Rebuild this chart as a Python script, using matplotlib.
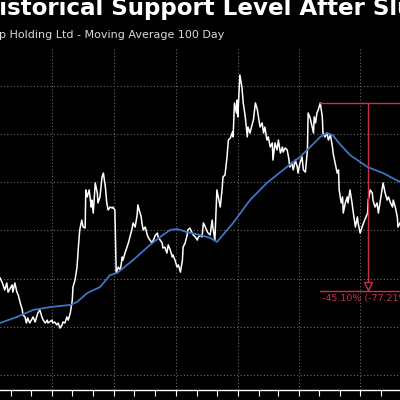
import numpy as np
import pandas as pd
import matplotlib
matplotlib.use("Agg")
import matplotlib.pyplot as plt
import matplotlib.dates as mdates
from matplotlib.transforms import offset_copy

# ---- data ---------------------------------------------------------------
START = pd.Timestamp("2020-01-15")

price_day = [
    0, 3, 7, 10, 12, 18, 19, 22, 25, 27, 30, 33, 34, 37, 39, 41, 44, 49, 52, 55,
    56, 59, 62, 64, 67, 70, 71, 77, 78, 81, 84, 86, 89, 92, 93, 96, 99, 101, 104, 107,
    108, 111, 114, 116, 118, 121, 123, 126, 127, 129, 132, 135, 136, 138, 141, 144, 145, 148, 151, 153,
    156, 158, 160, 163, 166, 167, 170, 172, 175, 178, 181, 182, 185, 188, 190, 193, 195, 197, 200, 203,
    204, 206, 209, 210, 212, 215, 218, 219, 222, 225, 227, 230, 233, 234, 237, 240, 241, 244, 247, 249,
    252, 255, 256, 259, 262, 264, 267, 270, 271, 274, 277, 278, 281, 284, 286, 289, 292, 293, 296, 299,
    301, 304, 307, 308, 311, 314, 315, 318, 320, 321, 324, 326, 329, 330, 333, 336, 338, 341, 344, 345,
    347, 350, 351, 352, 354, 355, 358, 360, 363, 366, 367, 370, 373, 375, 378, 381, 382, 385, 388, 390,
    392, 395, 397, 400, 403, 404, 407, 410, 412, 415, 418, 419, 422, 425, 427, 429, 432, 434, 437, 440,
    441, 444, 447, 449, 452, 455, 456, 459, 462, 464, 465, 467, 469, 471, 474, 477, 478, 481, 484, 486,
    489, 492, 493, 496, 499, 501, 502, 505, 507, 508, 511, 514, 515, 518, 521, 523, 526, 529, 530, 533,
    536, 538, 541, 544, 545, 548, 551, 552, 555, 558, 560, 563, 566, 567, 570, 573, 575, 578, 581, 582,
    585, 588, 589, 592,
]
price = [
    100.3, 98.6, 95.3, 98.2, 94.4, 97.4, 94.4, 98.2, 94.4, 93.2, 89.9, 87.0, 84.9, 84.1, 81.6, 83.7, 81.6, 84.1, 82.0, 84.9,
    85.7, 87.0, 84.1, 82.8, 81.6, 82.8, 81.6, 82.8, 81.6, 82.0, 80.8, 81.6, 79.5, 80.8, 82.0, 81.6, 84.1, 82.8, 85.7, 91.1,
    96.5, 99.4, 104.8, 113.1, 120.2, 124.3, 121.4, 121.0, 136.8, 133.9, 136.8, 129.7, 132.6, 127.2, 139.7, 135.5, 131.4, 133.9, 142.2, 143.8,
    138.0, 131.4, 128.5, 129.7, 129.3, 129.7, 128.5, 102.3, 104.8, 103.6, 109.0, 107.7, 110.6, 113.1, 114.8, 118.1, 120.2, 123.1, 121.4, 126.4,
    130.6, 128.5, 125.6, 123.1, 120.2, 121.4, 118.1, 117.3, 116.0, 114.8, 116.0, 118.1, 118.9, 117.3, 116.0, 114.8, 112.7, 113.1, 110.6, 114.0,
    111.9, 109.0, 109.8, 107.7, 104.8, 105.7, 102.7, 107.7, 113.1, 114.8, 118.1, 120.2, 121.0, 119.3, 118.1, 117.3, 116.0, 116.9, 118.1, 117.3,
    123.1, 121.4, 119.3, 118.9, 118.1, 124.3, 121.4, 116.0, 129.7, 136.8, 132.6, 129.7, 138.0, 142.2, 143.0, 150.5, 157.5, 158.4, 160.8, 158.8,
    172.9, 168.7, 174.1, 167.1, 178.3, 184.5, 179.5, 172.9, 167.1, 158.8, 162.9, 160.4, 163.8, 165.8, 172.9, 170.0, 167.9, 162.9, 164.6, 160.4,
    162.9, 157.5, 158.8, 154.6, 156.3, 149.2, 156.3, 153.4, 157.5, 152.1, 154.6, 152.5, 154.2, 153.4, 150.5, 146.3, 148.0, 145.1, 149.2, 146.3,
    143.8, 148.0, 150.5, 145.1, 144.2, 153.4, 168.7, 166.7, 162.9, 160.4, 167.1, 164.6, 168.7, 170.0, 172.9, 167.1, 160.4, 158.8, 160.4, 157.5,
    159.6, 154.6, 152.1, 148.0, 143.8, 145.1, 136.8, 131.4, 133.9, 127.2, 131.4, 133.9, 131.4, 136.8, 131.4, 127.2, 121.4, 125.6, 123.1, 118.9,
    121.4, 123.1, 125.2, 127.2, 132.6, 136.8, 135.5, 132.6, 129.7, 131.4, 127.2, 132.6, 138.0, 139.7, 135.5, 132.6, 133.9, 131.4, 129.7, 132.6,
    129.7, 125.6, 121.4, 123.1,
]

ma_day = [0, 25, 49, 74, 104, 114, 129, 148, 163, 173, 197, 222, 241, 252, 262, 277,
          296, 311, 321, 345, 370, 395, 419, 444, 459, 474, 484, 492, 504, 518, 533,
          544, 567, 592]
ma100 = [81.6, 84.1, 87.0, 88.2, 89.1, 90.3, 94.0, 96.5, 101.5, 102.3, 107.7, 114.0,
         118.1, 120.2, 120.6, 119.3, 118.1, 116.9, 115.2, 123.1, 132.6, 139.7, 145.1,
         150.5, 154.6, 158.8, 160.4, 159.6, 155.5, 151.3, 148.4, 146.3, 143.8, 140.1]

drop_pct = -45.10
drop_ann = -77.21
peak_from_day = 440      # search window for the marked peak
marker_day = 545         # where the red measuring arrow sits

TITLE = "Historical Support Level After Slump"
SUBTITLE = "Alibaba Group Holding Ltd - Moving Average 100 Day"

RED = "#c8304c"
BLUE = "#3f74c4"
GRID = "#6a6a6a"

# ---- figure --------------------------------------------------------------
px = START + pd.to_timedelta(price_day, unit="D")
mx = START + pd.to_timedelta(ma_day, unit="D")
x_end = START + pd.Timedelta(days=592)

fig = plt.figure(figsize=(4, 4), dpi=100, facecolor="black")
ax = fig.add_axes([0, 0.025, 1, 0.8575], facecolor="black")

ax.plot(px, price, color="white", lw=1.1, zorder=3)
ax.plot(mx, ma100, color=BLUE, lw=1.3, zorder=4)

# peak / drawdown annotation
p_arr = np.array(price)
d_arr = np.array(price_day)
sel = d_arr >= peak_from_day
i_pk = np.argmax(p_arr[sel])
peak_val = p_arr[sel][i_pk]
peak_x = px[sel][i_pk]
low_val = peak_val * (1 + drop_pct / 100)
mk_x = START + pd.Timedelta(days=marker_day)

ax.plot([peak_x, x_end], [peak_val, peak_val], color=RED, lw=1.0, zorder=5)
ax.plot([peak_x, x_end], [low_val, low_val], color=RED, lw=1.0, zorder=5)
ax.plot([mk_x, mk_x], [peak_val, low_val], color=RED, lw=1.0, zorder=5)
tri = offset_copy(ax.transData, fig=fig, x=0, y=3.2, units="points")
ax.plot([mk_x], [low_val], marker="v", ms=6, mfc="black", mec=RED, mew=1.0,
        transform=tri, zorder=6)
lbl = offset_copy(ax.transData, fig=fig, x=1.5, y=-2, units="points")
ax.text(peak_x, low_val, f"{drop_pct:.2f}% ({drop_ann:.2f}% annualized)",
        color=RED, fontsize=6.8, va="top", ha="left", transform=lbl, zorder=6)

ax.set_xlim(START, x_end)
ax.set_ylim(53.8, 196.1)

ax.xaxis.set_major_locator(mdates.MonthLocator(bymonth=[1, 4, 7, 10]))
ax.xaxis.set_minor_locator(mdates.MonthLocator())
ax.set_yticks(np.arange(60, 200, 20))
ax.grid(True, which="major", color=GRID, ls=(0, (1, 2)), lw=0.8)
ax.tick_params(axis="x", which="both", direction="out", length=4, width=0.8,
               color="white", labelbottom=False)
ax.tick_params(axis="y", length=0, labelleft=False)
for s in ("top", "left", "right"):
    ax.spines[s].set_visible(False)
ax.spines["bottom"].set_color("white")
ax.spines["bottom"].set_linewidth(1.0)

# title: the leading "H" sits just off the left edge, as in the cropped source
title_kw = dict(color="white", fontsize=16.6, fontweight="bold")
r = fig.canvas.get_renderer()
probe = fig.text(0, 0, "H", **title_kw)
h_w = probe.get_window_extent(renderer=r).width
probe.remove()
fig.text(-(h_w + 1) / 400, 1 - 15 / 400, TITLE, ha="left", va="baseline", **title_kw)
fig.text(224 / 400, 1 - 38 / 400, SUBTITLE, color="#d8d8d8", fontsize=8,
         ha="right", va="baseline")

fig.savefig("out.png", dpi=100, facecolor="black")
